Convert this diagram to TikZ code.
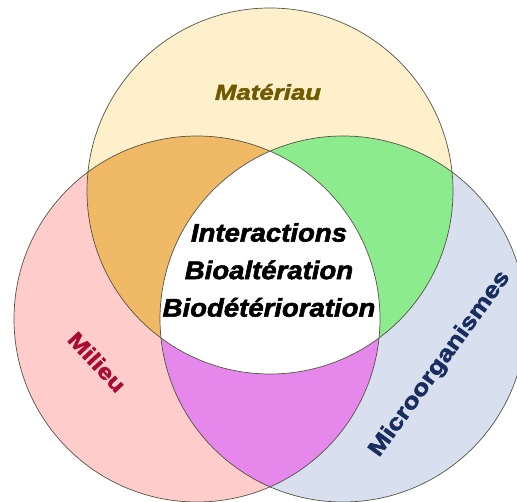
\documentclass[tikz,border=0pt]{standalone}
\usepackage{fontspec}
\setmainfont{Liberation Sans}
\newfontfamily\lbl[FakeBold=2.2,FakeStretch=1.2]{Liberation Sans}
\newfontfamily\lblc[FakeBold=2.2,FakeStretch=1.08]{Liberation Sans}
\definecolor{cTop}{RGB}{255,240,204}
\definecolor{cLeft}{RGB}{255,204,204}
\definecolor{cRight}{RGB}{216,224,240}
\definecolor{cOrange}{RGB}{240,185,102}
\definecolor{cGreen}{RGB}{140,235,140}
\definecolor{cPurple}{RGB}{230,135,235}
\definecolor{cLine}{RGB}{85,85,70}
\definecolor{tMat}{RGB}{112,90,0}
\definecolor{tMil}{RGB}{170,10,50}
\definecolor{tMic}{RGB}{25,45,95}
\tikzset{
  setline/.style={draw=cLine, line width=0.7pt},
  lab/.style={font=\lbl\bfseries\itshape\fontsize{21.5}{24}\selectfont, inner sep=0pt},
  labup/.style={font=\lbl\bfseries\fontsize{#1}{24}\selectfont, inner sep=0pt},
  core/.style={font=\lblc\bfseries\itshape\fontsize{25.5}{37.5}\selectfont, align=center, inner sep=0pt, text=black}
}
\begin{document}
\begin{tikzpicture}[x=1pt,y=1pt]
\useasboundingbox (0,0) rectangle (517,502);
\coordinate (T) at (270,311);
\coordinate (L) at (197,183);
\coordinate (R) at (343,183);
\def\rr{183pt}
% base fills
\fill[cTop] (T) circle[radius=\rr];
\fill[cLeft] (L) circle[radius=\rr];
\fill[cRight] (R) circle[radius=\rr];
% pairwise intersections
\begin{scope}
  \clip (T) circle[radius=\rr];
  \fill[cOrange] (L) circle[radius=\rr];
  \fill[cGreen] (R) circle[radius=\rr];
\end{scope}
\begin{scope}
  \clip (L) circle[radius=\rr];
  \fill[cPurple] (R) circle[radius=\rr];
\end{scope}
% triple intersection
\begin{scope}
  \clip (T) circle[radius=\rr];
  \clip (L) circle[radius=\rr];
  \fill[white] (R) circle[radius=\rr];
\end{scope}
% outlines
\draw[setline] (T) circle[radius=\rr];
\draw[setline] (L) circle[radius=\rr];
\draw[setline] (R) circle[radius=\rr];
% labels
\node[lab, text=tMat] (mat) at (268,410) {Matériau};
\node[labup=21.5, text=tMil, rotate=-47] (mil) at (97,140) {Milieu};
\node[labup=22.5, text=tMic, rotate=54] (mic) at (440,138) {Microorganismes};
\node[core] (ctr) at (269,232) {Interactions\\Bioaltération\\Biodétérioration};
\end{tikzpicture}
\end{document}
